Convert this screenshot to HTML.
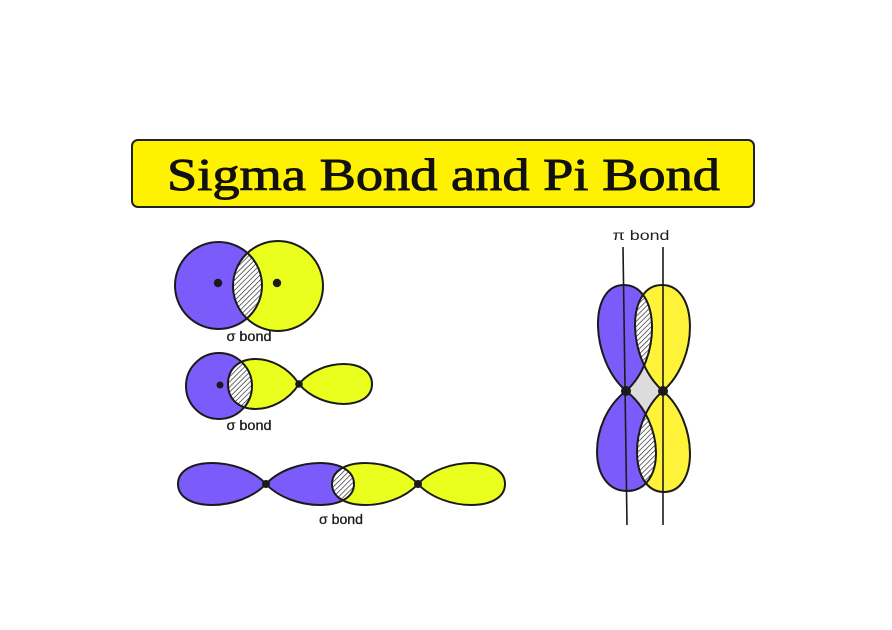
<!DOCTYPE html>
<html>
<head>
<meta charset="utf-8">
<style>
  html, body { margin: 0; padding: 0; background: #ffffff; }
  svg { display: block; }
</style>
</head>
<body>
<svg width="892" height="630" viewBox="0 0 892 630" xmlns="http://www.w3.org/2000/svg">
  <defs>
    <pattern id="hatch" patternUnits="userSpaceOnUse" width="3.6" height="3.6" patternTransform="rotate(45)">
      <rect width="3.6" height="3.6" fill="#ffffff"/>
      <line x1="0" y1="0" x2="0" y2="3.6" stroke="#222" stroke-width="1.3"/>
    </pattern>
    <clipPath id="c1"><circle cx="218.5" cy="285.5" r="43.5"/></clipPath>
    <clipPath id="c2"><circle cx="219" cy="386" r="33"/></clipPath>
    <clipPath id="c3"><path d="M266,484 C292.4,456 354,456 354,484 C354,512 292.4,512 266,484Z"/></clipPath>
    <clipPath id="c4"><path d="M626,391 C590,359.2 588,285 624,285 C660,285 662,359.2 626,391Z"/></clipPath>
    <clipPath id="c5"><path d="M626,391 C586.7,421 587.7,491 627,491 C666.3,491 665.3,421 626,391Z"/></clipPath>
  </defs>

  <rect x="0" y="0" width="892" height="630" fill="#ffffff"/>

  <!-- Title -->
  <rect x="132" y="140" width="622" height="67" rx="6" ry="6" fill="#FFF200" stroke="#222" stroke-width="2"/>
  <text x="443.5" y="190" text-anchor="middle" font-family="'Liberation Serif', serif" font-weight="normal" font-size="46" fill="#111" stroke="#111" stroke-width="0.9" textLength="553" lengthAdjust="spacingAndGlyphs">Sigma Bond and Pi Bond</text>

  <!-- Row 1 -->
  <circle cx="218.5" cy="285.5" r="43.5" fill="#7B5CFA"/>
  <circle cx="278" cy="286" r="45" fill="#EBFF1F"/>
  <g clip-path="url(#c1)">
    <circle cx="278" cy="286" r="45" fill="url(#hatch)"/>
  </g>
  <circle cx="218.5" cy="285.5" r="43.5" fill="none" stroke="#1a1a1a" stroke-width="2"/>
  <circle cx="278" cy="286" r="45" fill="none" stroke="#1a1a1a" stroke-width="2"/>
  <circle cx="218" cy="283" r="4.2" fill="#1a1a1a"/>
  <circle cx="277" cy="283" r="4.2" fill="#1a1a1a"/>
  <text x="249" y="341" text-anchor="middle" font-family="'Liberation Sans', sans-serif" font-size="13.5" fill="#1a1a1a" stroke="#1a1a1a" stroke-width="0.3" textLength="45" lengthAdjust="spacingAndGlyphs">σ bond</text>

  <!-- Row 2 -->
  <circle cx="219" cy="386" r="33" fill="#7B5CFA"/>
  <path d="M299,384 C277.7,350.7 228,350.7 228,384 C228,417.3 277.7,417.3 299,384Z" fill="#EBFF1F"/>
  <path d="M299,384 C320.9,357.4 372,357.4 372,384 C372,410.6 320.9,410.6 299,384Z" fill="#EBFF1F"/>
  <g clip-path="url(#c2)">
    <path d="M299,384 C277.7,350.7 228,350.7 228,384 C228,417.3 277.7,417.3 299,384Z" fill="url(#hatch)"/>
  </g>
  <circle cx="219" cy="386" r="33" fill="none" stroke="#1a1a1a" stroke-width="2"/>
  <path d="M299,384 C277.7,350.7 228,350.7 228,384 C228,417.3 277.7,417.3 299,384Z" fill="none" stroke="#1a1a1a" stroke-width="2"/>
  <path d="M299,384 C320.9,357.4 372,357.4 372,384 C372,410.6 320.9,410.6 299,384Z" fill="none" stroke="#1a1a1a" stroke-width="2"/>
  <circle cx="220" cy="385" r="3.5" fill="#1a1a1a"/>
  <circle cx="299" cy="384" r="3.8" fill="#1a1a1a"/>
  <text x="249" y="430" text-anchor="middle" font-family="'Liberation Sans', sans-serif" font-size="13.5" fill="#1a1a1a" stroke="#1a1a1a" stroke-width="0.3" textLength="45" lengthAdjust="spacingAndGlyphs">σ bond</text>

  <!-- Row 3 -->
  <path d="M266,484 C239.6,456 178,456 178,484 C178,512 239.6,512 266,484Z" fill="#7B5CFA"/>
  <path d="M266,484 C292.4,456 354,456 354,484 C354,512 292.4,512 266,484Z" fill="#7B5CFA"/>
  <path d="M418,484 C392.2,456 332,456 332,484 C332,512 392.2,512 418,484Z" fill="#EBFF1F"/>
  <path d="M418,484 C444.1,456 505,456 505,484 C505,512 444.1,512 418,484Z" fill="#EBFF1F"/>
  <g clip-path="url(#c3)">
    <path d="M418,484 C392.2,456 332,456 332,484 C332,512 392.2,512 418,484Z" fill="url(#hatch)"/>
  </g>
  <g fill="none" stroke="#1a1a1a" stroke-width="2">
    <path d="M266,484 C239.6,456 178,456 178,484 C178,512 239.6,512 266,484Z"/>
    <path d="M266,484 C292.4,456 354,456 354,484 C354,512 292.4,512 266,484Z"/>
    <path d="M418,484 C392.2,456 332,456 332,484 C332,512 392.2,512 418,484Z"/>
    <path d="M418,484 C444.1,456 505,456 505,484 C505,512 444.1,512 418,484Z"/>
  </g>
  <circle cx="266" cy="484" r="4" fill="#1a1a1a"/>
  <circle cx="418" cy="484" r="4" fill="#1a1a1a"/>
  <text x="341" y="524" text-anchor="middle" font-family="'Liberation Sans', sans-serif" font-size="13.5" fill="#1a1a1a" stroke="#1a1a1a" stroke-width="0.3" textLength="44" lengthAdjust="spacingAndGlyphs">σ bond</text>

  <!-- Pi bond -->
  <text x="641" y="240" text-anchor="middle" font-family="'Liberation Sans', sans-serif" font-size="14" fill="#222" textLength="57" lengthAdjust="spacingAndGlyphs">π bond</text>
  <polygon points="626,391 644,366 663,391 644,414" fill="#dcdcdc"/>
  <path d="M626,391 C590,359.2 588,285 624,285 C660,285 662,359.2 626,391Z" fill="#7B5CFA"/>
  <path d="M663,391 C626.4,359.2 625.4,285 662,285 C698.6,285 699.6,359.2 663,391Z" fill="#FFF33A"/>
  <path d="M626,391 C586.7,421 587.7,491 627,491 C666.3,491 665.3,421 626,391Z" fill="#7B5CFA"/>
  <path d="M663,391 C627.7,421 628.7,492 664,492 C699.3,492 698.3,421 663,391Z" fill="#FFF33A"/>
  <g clip-path="url(#c4)">
    <path d="M663,391 C626.4,359.2 625.4,285 662,285 C698.6,285 699.6,359.2 663,391Z" fill="url(#hatch)"/>
  </g>
  <g clip-path="url(#c5)">
    <path d="M663,391 C627.7,421 628.7,492 664,492 C699.3,492 698.3,421 663,391Z" fill="url(#hatch)"/>
  </g>
  <g fill="none" stroke="#1a1a1a" stroke-width="2">
    <path d="M626,391 C590,359.2 588,285 624,285 C660,285 662,359.2 626,391Z"/>
    <path d="M663,391 C626.4,359.2 625.4,285 662,285 C698.6,285 699.6,359.2 663,391Z"/>
    <path d="M626,391 C586.7,421 587.7,491 627,491 C666.3,491 665.3,421 626,391Z"/>
    <path d="M663,391 C627.7,421 628.7,492 664,492 C699.3,492 698.3,421 663,391Z"/>
  </g>
  <line x1="623" y1="247" x2="627" y2="525" stroke="#1a1a1a" stroke-width="1.6"/>
  <line x1="663" y1="247" x2="663" y2="525" stroke="#1a1a1a" stroke-width="1.6"/>
  <circle cx="626" cy="391" r="5" fill="#1a1a1a"/>
  <circle cx="663" cy="391" r="5" fill="#1a1a1a"/>
</svg>
</body>
</html>
